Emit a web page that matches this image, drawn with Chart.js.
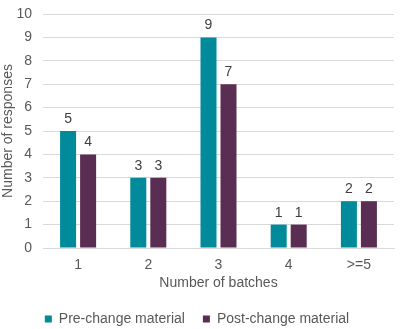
<!DOCTYPE html>
<html>
<head>
<meta charset="utf-8">
<script src="https://cdn.jsdelivr.net/npm/chart.js@4/dist/chart.umd.min.js"></script>
<style>
  html, body { margin: 0; padding: 0; background: #fff; }
  #wrap { width: 400px; height: 329px; }
</style>
</head>
<body>
<div id="wrap"><canvas id="batchChart"></canvas></div>
<script>
// categories + values
var batches = ['1', '2', '3', '4', '>=5'];
var preChange = [5, 3, 9, 1, 2];
var postChange = [4, 3, 7, 1, 2];
var yTicks = [0, 10];

var grey = '#595959';
var font = { family: 'Liberation Sans, Arial, sans-serif', size: 14 };

// small plugin for the numbers over the bars (no datalabels plugin offline)
var barValues = {
  id: 'barValues',
  afterDatasetsDraw: function (chart) {
    var ctx = chart.ctx;
    ctx.save();
    ctx.fillStyle = '#404040';
    ctx.font = '14px ' + font.family;
    ctx.textAlign = 'center';
    ctx.textBaseline = 'alphabetic';
    chart.data.datasets.forEach(function (ds, i) {
      chart.getDatasetMeta(i).data.forEach(function (bar, j) {
        ctx.fillText(ds.data[j], bar.x, bar.y - 8);
      });
    });
    ctx.restore();
  }
};

// legend padding is used for the gap between items too, so trim its height
var legendHeight = {
  id: 'legendHeight',
  beforeInit: function (chart) {
    var fit = chart.legend.fit;
    chart.legend.fit = function () {
      fit.bind(chart.legend)();
      this.height = 35;
    };
  }
};

new Chart(document.getElementById('batchChart'), {
  type: 'bar',
  data: {
    labels: batches,
    datasets: [
      { label: 'Pre-change material', data: preChange, backgroundColor: '#008A9A' },
      { label: 'Post-change material', data: postChange, backgroundColor: '#5A2D52' }
    ]
  },
  options: {
    responsive: true,
    maintainAspectRatio: false,
    animation: false,
    categoryPercentage: 0.57,
    barPercentage: 0.8,
    layout: { padding: { top: 14, right: 6, left: 0, bottom: 0 } },
    plugins: {
      legend: {
        position: 'bottom',
        align: 'center',
        labels: {
          color: grey,
          font: font,
          boxWidth: 7,
          boxHeight: 7,
          padding: 18
        }
      },
      tooltip: { enabled: false }
    },
    scales: {
      x: {
        afterFit: function (scale) { scale.height = 46; },
        grid: { display: false, drawTicks: false },
        border: { color: '#d9d9d9', width: 1 },
        ticks: { color: grey, font: font, padding: 9 },
        title: { display: true, text: 'Number of batches', color: grey, font: font, padding: { top: 2, bottom: 2 } }
      },
      y: {
        min: yTicks[0],
        max: yTicks[1],
        afterFit: function (scale) {
          scale.width = 43;
          scale.paddingTop = 0;
          scale.paddingBottom = 0;
        },
        ticks: { stepSize: 1, color: grey, font: font, padding: 11 },
        grid: { color: '#d9d9d9', drawTicks: false },
        border: { display: false },
        title: { display: true, text: 'Number of responses', color: grey, font: font, padding: 0 }
      }
    }
  },
  plugins: [barValues, legendHeight]
});
</script>
</body>
</html>
